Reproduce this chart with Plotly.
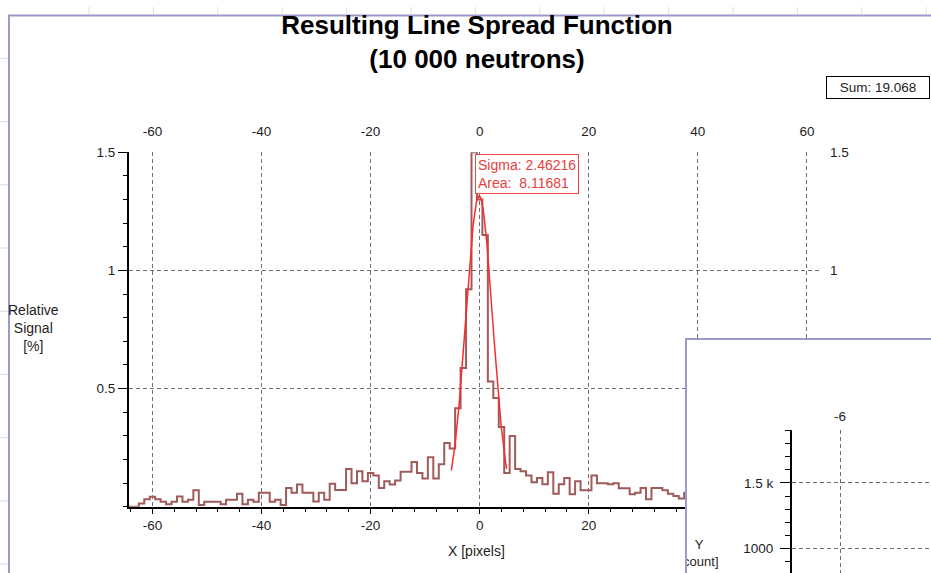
import numpy as np
import plotly.graph_objects as go

W, H = 931, 573

# Line spread function histogram: bin centres [pixels] and relative signal [%]
bin_centers = list(range(-64, 39))
signal = [
    0.0, 0.0, 0.014, 0.032, 0.043, 0.032, 0.021, 0.011, 0.021, 0.044,   # -64 .. -55
    0.021, 0.030, 0.070, 0.008, 0.021, 0.021, 0.021, 0.011, 0.030, 0.030,  # -54 .. -45
    0.055, 0.011, 0.030, 0.021, 0.060, 0.060, 0.021, 0.030, 0.008, 0.080,  # -44 .. -35
    0.060, 0.094, 0.060, 0.060, 0.022, 0.060, 0.030, 0.098, 0.071, 0.071,  # -34 .. -25
    0.160, 0.100, 0.150, 0.108, 0.143, 0.132, 0.080, 0.108, 0.094, 0.111,  # -24 .. -15
    0.148, 0.148, 0.190, 0.143, 0.120, 0.210, 0.120, 0.180, 0.270, 0.247,  # -14 .. -5
    0.417, 0.587, 0.920, 1.500, 1.300, 1.150, 0.530, 0.460, 0.338, 0.143,  # -4 .. 5
    0.300, 0.160, 0.150, 0.132, 0.104, 0.122, 0.095, 0.146, 0.055, 0.095,  # 6 .. 15
    0.122, 0.053, 0.108, 0.070, 0.070, 0.132, 0.100, 0.100, 0.095, 0.100,  # 16 .. 25
    0.078, 0.078, 0.053, 0.060, 0.080, 0.032, 0.080, 0.080, 0.070, 0.055,  # 26 .. 35
    0.046, 0.035, 0.060,                                                   # 36 .. 38
]
bin_width = 1.0

# Gaussian fit of the central peak
fit_sigma = 2.46216
fit_area = 8.11681
fit_center = -0.1
fit_from, fit_to = -5.2, 4.95
sum_text = "Sum: 19.068"

x_ticks = [-60, -40, -20, 0, 20, 40, 60]
x_labels = ["-60", "-40", "-20", "0", "20", "40", "60"]
y_ticks = [0.5, 1, 1.5]
y_labels = ["0.5", "1", "1.5"]

# second window (count histogram) axis labels
win_x_ticks = [-6]
win_x_labels = ["-6"]
win_next_x_label = "-4"
win_y_ticks = [1000, 1500]
win_y_labels = ["1000", "1.5 k"]


def px(x):
    return x / W


def py(y):
    return 1 - y / H


FONT = "Arial, Liberation Sans, sans-serif"
TXT = "#1e1e1e"
GRID = "#6e6e6e"
DASH = "4px,3px"
FRAME = "#9a9acb"
TICK_SIZE = 13.5

# step outline: left edge of each bin, closing at the right edge of the last one
edges = [c - bin_width / 2 for c in bin_centers] + [bin_centers[-1] + bin_width / 2]
steps = signal + [signal[-1]]

fx = np.linspace(fit_from, fit_to, 200)
fy = fit_area / (fit_sigma * np.sqrt(2 * np.pi)) * np.exp(-0.5 * ((fx - fit_center) / fit_sigma) ** 2)

fig = go.Figure()
fig.add_trace(go.Scatter(x=edges, y=steps, mode="lines", line_shape="hv",
                         line=dict(color="#a05a5a", width=2), hoverinfo="skip"))
fig.add_trace(go.Scatter(x=fx, y=fy, mode="lines",
                         line=dict(color="#ff2a2a", width=1.5), hoverinfo="skip"))
# carriers for the top and right tick labels
fig.add_trace(go.Scatter(x=[0], y=[0], mode="markers", marker=dict(opacity=0),
                         xaxis="x2", yaxis="y", hoverinfo="skip"))
fig.add_trace(go.Scatter(x=[0], y=[0], mode="markers", marker=dict(opacity=0),
                         xaxis="x", yaxis="y2", hoverinfo="skip"))

# window of the second chart (pixel-space axes), texts clipped by the window frame
fig.add_trace(go.Scatter(x=[699, 937], y=[554, 416], mode="text",
                         text=["Y<br>[count]", win_next_x_label],
                         textfont=dict(family=FONT, size=[13, TICK_SIZE], color=TXT),
                         xaxis="x3", yaxis="y3", cliponaxis=True, hoverinfo="skip"))
fig.add_trace(go.Scatter(x=[-6], y=[1000], mode="markers", marker=dict(opacity=0),
                         xaxis="x4", yaxis="y4", hoverinfo="skip"))

tickfont = dict(family=FONT, size=TICK_SIZE, color=TXT)

fig.update_layout(
    width=W, height=H,
    margin=dict(l=0, r=0, t=0, b=0),
    paper_bgcolor="white", plot_bgcolor="white",
    showlegend=False,
    title=dict(text="Resulting Line Spread Function<br>(10 000 neutrons)",
               font=dict(family=FONT, size=26, color="black", weight="bold"),
               x=px(477), xanchor="center", xref="paper",
               y=1 - 34 / H, yanchor="top", yref="container"),
    xaxis=dict(domain=[px(129), px(820)], range=[-64.3, 62.4], anchor="y",
               tickmode="array", tickvals=x_ticks, ticktext=x_labels,
               showline=True, linecolor="black", linewidth=2,
               ticks="outside", ticklen=5, tickcolor="black", tickwidth=1,
               minor=dict(tickmode="linear", tick0=0, dtick=4, ticks="outside",
                          ticklen=3, tickcolor="black", showgrid=False),
               showgrid=True, gridcolor=GRID, griddash=DASH, gridwidth=1,
               zeroline=False, tickfont=tickfont, ticklabelstandoff=0),
    yaxis=dict(domain=[py(506), py(147)], range=[0, 1.5], anchor="x",
               tickmode="array", tickvals=y_ticks, ticktext=y_labels,
               showline=True, linecolor="black", linewidth=2,
               ticks="outside", ticklen=9, tickcolor="black", tickwidth=1,
               minor=dict(tickmode="linear", tick0=0, dtick=0.1, ticks="outside",
                          ticklen=4, tickcolor="black", showgrid=False),
               showgrid=True, gridcolor=GRID, griddash=DASH, gridwidth=1,
               zeroline=False, tickfont=tickfont),
    xaxis2=dict(overlaying="x", matches="x", side="top", anchor="y",
                tickmode="array", tickvals=x_ticks, ticktext=x_labels,
                showline=False, ticks="", showgrid=False, zeroline=False,
                tickfont=tickfont, ticklabelstandoff=13),
    yaxis2=dict(overlaying="y", matches="y", side="right", anchor="x",
                tickmode="array", tickvals=y_ticks, ticktext=y_labels,
                showline=False, ticks="", showgrid=False, zeroline=False,
                tickfont=tickfont, ticklabelstandoff=9),
    xaxis3=dict(domain=[px(686), 1], range=[686, 931], anchor="y3",
                showline=False, showgrid=False, zeroline=False,
                showticklabels=False, ticks=""),
    yaxis3=dict(domain=[0, py(336)], range=[573, 336], anchor="x3",
                showline=False, showgrid=False, zeroline=False,
                showticklabels=False, ticks=""),
    xaxis4=dict(domain=[px(792), 1], range=[-7.055, -4.0], anchor="y4", side="top",
                tickmode="array", tickvals=win_x_ticks, ticktext=win_x_labels,
                showline=False, ticks="", showgrid=True, gridcolor=GRID,
                griddash=DASH, gridwidth=1, zeroline=False, tickfont=tickfont,
                ticklabelstandoff=6),
    yaxis4=dict(domain=[0, py(428.5)], range=[815, 1900], anchor="x4",
                tickmode="array", tickvals=win_y_ticks, ticktext=win_y_labels,
                showline=True, linecolor="black", linewidth=2,
                ticks="outside", ticklen=10, tickcolor="black", tickwidth=1,
                minor=dict(tickmode="linear", tick0=0, dtick=100, ticks="outside",
                           ticklen=5, tickcolor="black", showgrid=False),
                showgrid=True, gridcolor=GRID, griddash=DASH, gridwidth=1,
                zeroline=False, tickfont=tickfont, ticklabelstandoff=4),
)

shapes = []
# worksheet grid visible around the chart window
for k in range(14):
    gx = 89 + 64.4 * k
    shapes.append(dict(type="line", xref="paper", yref="paper", layer="above",
                       x0=px(gx), x1=px(gx), y0=py(0), y1=py(7),
                       line=dict(color="#dcdce4", width=1)))
for k in range(9):
    gy = 52 + 64 * k
    shapes.append(dict(type="line", xref="paper", yref="paper", layer="above",
                       x0=px(0), x1=px(8), y0=py(gy), y1=py(gy),
                       line=dict(color="#dcdce4", width=1)))
# chart window frame
shapes.append(dict(type="line", xref="paper", yref="paper", layer="above",
                   x0=px(8), x1=1, y0=py(8.5), y1=py(8.5),
                   line=dict(color=FRAME, width=2)))
shapes.append(dict(type="line", xref="paper", yref="paper", layer="above",
                   x0=px(9), x1=px(9), y0=py(8), y1=0,
                   line=dict(color=FRAME, width=2)))
# second window frame
shapes.append(dict(type="line", xref="paper", yref="paper", layer="above",
                   x0=px(685), x1=1, y0=py(336), y1=py(336),
                   line=dict(color=FRAME, width=2)))
shapes.append(dict(type="line", xref="paper", yref="paper", layer="above",
                   x0=px(686), x1=px(686), y0=py(335), y1=0,
                   line=dict(color=FRAME, width=2)))
fig.update_layout(shapes=shapes)

annotations = [
    dict(text="Relative<br>Signal<br>[%]", xref="paper", yref="paper",
         x=px(33), y=py(325), xanchor="center", yanchor="middle", showarrow=False,
         font=dict(family=FONT, size=14, color=TXT)),
    dict(text="X [pixels]", xref="paper", yref="paper",
         x=px(476), y=py(551), xanchor="center", yanchor="middle", showarrow=False,
         font=dict(family=FONT, size=14, color=TXT)),
    dict(text=f"Sigma: {fit_sigma:.5f}<br>Area:\u00a0\u00a0{fit_area:.5f}",
         xref="paper", yref="paper", x=px(475), y=py(149), xanchor="left", yanchor="top",
         align="left", showarrow=False, bgcolor="white", bordercolor="#ee4a4a",
         borderwidth=1, borderpad=2,
         font=dict(family=FONT, size=14, color="#e8403c")),
    dict(text=sum_text, xref="paper", yref="paper",
         x=px(826), y=py(70), xanchor="left", yanchor="top",
         showarrow=False, bgcolor="white", bordercolor="black", borderwidth=1,
         borderpad=3, width=96,
         font=dict(family=FONT, size=13.5, color=TXT)),
]
fig.update_layout(annotations=annotations)

fig.write_html("out.html")
